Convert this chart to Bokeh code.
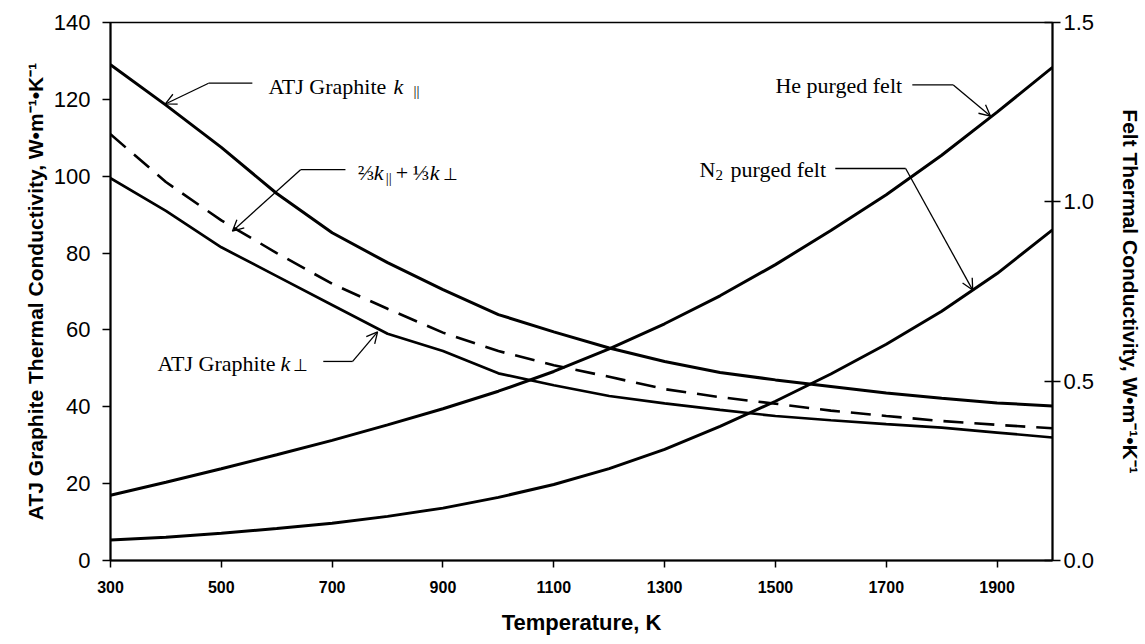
from bokeh.plotting import figure
from bokeh.models import Range1d, LinearAxis, FixedTicker, NumeralTickFormatter, Arrow, OpenHead
from bokeh.core.properties import value
from bokeh.embed import file_html
from bokeh.resources import INLINE

# ---- data ----
temperature_K = [300, 400, 500, 600, 700, 800, 900, 1000, 1100, 1200,
                 1300, 1400, 1500, 1600, 1700, 1800, 1900, 2000]
k_parallel = [129, 118.5, 107.5, 95.5, 85.3, 77.5, 70.5, 64, 59.5, 55.3,
              51.8, 48.9, 47, 45.3, 43.6, 42.2, 41, 40.2]
k_mix = [110.9, 98.5, 88.5, 80, 72, 65.5, 59.3, 54.5, 50.8, 47.8,
         44.6, 42.5, 40.8, 39, 37.6, 36.3, 35.3, 34.4]
k_perp = [99.5, 91, 81.5, 74, 66.5, 59, 54.5, 48.7, 45.6, 42.8,
          40.9, 39.2, 37.6, 36.5, 35.5, 34.6, 33.3, 32]
felt_he = [0.182, 0.218, 0.256, 0.295, 0.335, 0.378, 0.423, 0.472, 0.527, 0.59,
           0.66, 0.738, 0.825, 0.92, 1.02, 1.13, 1.25, 1.375]
felt_n2 = [0.057, 0.065, 0.076, 0.089, 0.104, 0.123, 0.146, 0.176, 0.212, 0.256,
           0.31, 0.374, 0.444, 0.52, 0.603, 0.695, 0.8, 0.922]

x_ticks = [300, 500, 700, 900, 1100, 1300, 1500, 1700, 1900]
left_ticks = [0, 20, 40, 60, 80, 100, 120, 140]
right_ticks = [0.0, 0.5, 1.0, 1.5]

SANS = "Liberation Sans"
SERIF = "Liberation Serif"

p = figure(frame_width=942, frame_height=538,
           min_border_left=110, min_border_right=90,
           min_border_top=22, min_border_bottom=76,
           x_range=Range1d(300, 2000), y_range=Range1d(0, 140),
           output_backend="svg", toolbar_location=None,
           background_fill_color="white", border_fill_color="white")
p.extra_y_ranges = {"felt": Range1d(0, 1.5)}
p.grid.visible = False
p.outline_line_color = "black"
p.outline_line_width = 1.5


def style_axis(ax, title_size, label_size, label_bold=False):
    ax.axis_label_text_font = SANS
    ax.axis_label_text_font_style = "bold"
    ax.axis_label_text_font_size = title_size
    ax.axis_label_text_color = "black"
    ax.major_label_text_font = SANS
    ax.major_label_text_font_size = label_size
    ax.major_label_text_font_style = "bold" if label_bold else "normal"
    ax.major_label_text_color = "black"
    ax.axis_line_color = "black"
    ax.axis_line_width = 2
    ax.major_tick_line_color = "black"
    ax.major_tick_line_width = 1.5
    ax.minor_tick_out = 0
    ax.minor_tick_in = 0


# x axis
xa = p.xaxis[0]
xa.ticker = FixedTicker(ticks=x_ticks)
xa.axis_label = "Temperature, K"
style_axis(xa, "22px", "16px", label_bold=True)
xa.axis_label_standoff = 14
xa.major_label_standoff = 13
xa.major_tick_out = 7
xa.major_tick_in = 0

# left axis
ya = p.yaxis[0]
ya.ticker = FixedTicker(ticks=left_ticks)
ya.axis_label = "ATJ Graphite Thermal Conductivity, W•m⁻¹•K⁻¹"
style_axis(ya, "21px", "22px")
ya.axis_label_standoff = 4
ya.major_label_standoff = 12
ya.major_tick_out = 8
ya.major_tick_in = 0

# right axis
ra = LinearAxis(y_range_name="felt")
ra.ticker = FixedTicker(ticks=right_ticks)
ra.formatter = NumeralTickFormatter(format="0.0")
ra.axis_label = "Felt Thermal Conductivity, W•m⁻¹•K⁻¹"
style_axis(ra, "21px", "22px")
ra.axis_label_standoff = 22
ra.major_label_standoff = 3
ra.major_tick_out = 8
ra.major_tick_in = 8
p.add_layout(ra, "right")

# curves
p.line(temperature_K, k_parallel, line_color="black", line_width=3)
p.line(temperature_K, k_mix, line_color="black", line_width=2.6, line_dash="20 11")
p.line(temperature_K, k_perp, line_color="black", line_width=2.7)
p.line(temperature_K, felt_he, line_color="black", line_width=3, y_range_name="felt")
p.line(temperature_K, felt_n2, line_color="black", line_width=3, y_range_name="felt")


def run(x, y, txt, dx=0, dy=0, size="22px", style="normal", rng="default"):
    p.text(x=[x], y=[y], text=[txt], x_offset=dx, y_offset=dy,
           text_font=value(SERIF), text_font_size=size, text_font_style=style,
           text_color="black", text_baseline="middle", text_align="left",
           y_range_name=rng)


def callout(xh1, xh2, yh, xt, yt, rng="default"):
    p.line([xh1, xh2], [yh, yh], line_color="black", line_width=1.3, y_range_name=rng)
    p.add_layout(Arrow(end=OpenHead(size=11, line_width=1.3, line_color="black"),
                       x_start=xh2, y_start=yh, x_end=xt, y_end=yt,
                       line_width=1.3, line_color="black", y_range_name=rng))


# ATJ Graphite k-parallel
run(585, 123.4, "ATJ Graphite")
run(585, 123.4, "k", dx=125, style="italic")
run(585, 123.4, "||", dx=145, dy=5, size="15px")
callout(556, 477, 124.2, 399, 118.8)

# 2/3 k|| + 1/3 k-perp
run(746, 100.9, "⅔")
run(746, 100.9, "k", dx=16, style="italic")
run(746, 100.9, "||", dx=28, dy=5, size="15px")
run(746, 100.9, "+", dx=38)
run(746, 100.9, "⅓", dx=55)
run(746, 100.9, "k", dx=72, style="italic")
run(746, 100.9, "⊥", dx=85, dy=2, size="17px")
callout(724, 643, 101.7, 520, 85.7)

# ATJ Graphite k-perp
run(385, 51.2, "ATJ Graphite")
run(385, 51.2, "k", dx=123, style="italic")
run(385, 51.2, "⊥", dx=135, dy=2, size="17px")
callout(684, 737, 51.8, 782, 59.5)

# He purged felt
run(1500, 1.325, "He purged felt", rng="felt")
callout(1747, 1821, 1.326, 1888, 1.239, rng="felt")

# N2 purged felt
run(1363, 1.09, "N", rng="felt")
run(1363, 1.09, "2", dx=16, dy=5, size="15px", rng="felt")
run(1363, 1.09, "purged felt", dx=31, rng="felt")
callout(1608, 1735, 1.093, 1856, 0.754, rng="felt")

open("out.html", "w").write(file_html(p, INLINE))
